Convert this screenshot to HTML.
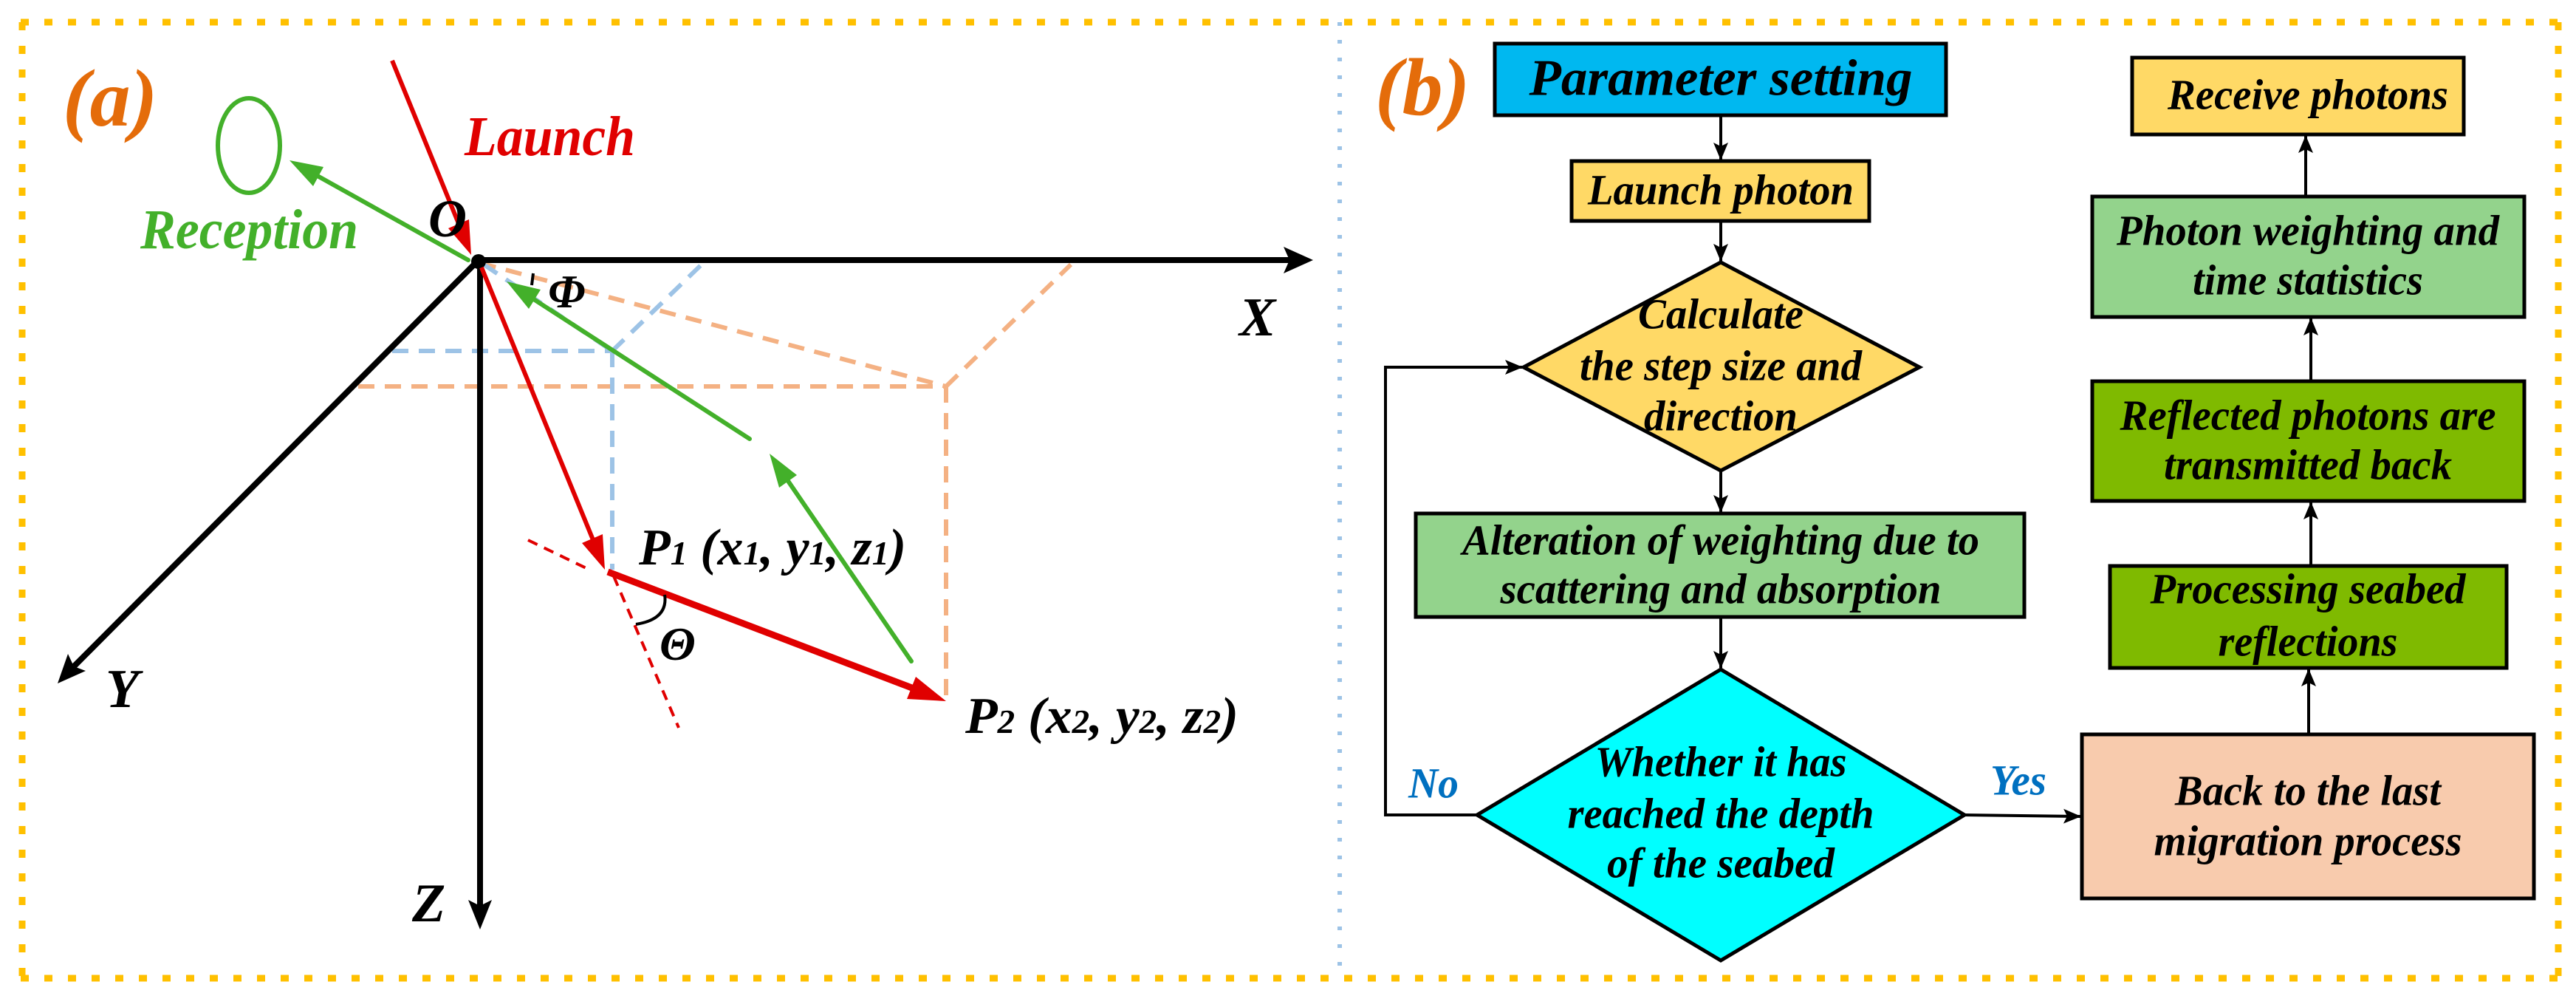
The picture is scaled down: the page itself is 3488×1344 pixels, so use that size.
<!DOCTYPE html>
<html><head><meta charset="utf-8"><style>
html,body{margin:0;padding:0;background:#fff;}
svg{display:block;}
text{font-family:"Liberation Serif",serif;font-weight:bold;font-style:italic;}
</style></head><body>
<svg width="3488" height="1344" viewBox="0 0 3488 1344" xmlns="http://www.w3.org/2000/svg">
<defs>
<marker id="ak" markerWidth="24" markerHeight="20" refX="23" refY="10" orient="auto" markerUnits="userSpaceOnUse" viewBox="0 0 24 20"><path d="M0,0 L24,10 L0,20 L5,10 Z" fill="#000"/></marker>
</defs>
<!-- border -->
<g stroke="#ffc000" stroke-width="9" fill="none" stroke-dasharray="11 21">
<line x1="28" y1="30" x2="3466" y2="30"/>
<line x1="28" y1="1324" x2="3466" y2="1324"/>
<line x1="30" y1="30" x2="30" y2="1324"/>
<line x1="3464" y1="30" x2="3464" y2="1324"/>
</g>
<line x1="1814" y1="30" x2="1814" y2="1320" stroke="#9dc3e6" stroke-width="6" stroke-dasharray="5 19"/>

<!-- panel a -->
<text x="85" y="170" font-size="110" fill="#e46c0a">(a)</text>
<g stroke="#f4b183" stroke-width="6" fill="none" stroke-dasharray="22 14">
<line x1="650" y1="356" x2="1281" y2="523"/>
<line x1="1281" y1="523" x2="1450" y2="358"/>
<line x1="1281" y1="523" x2="1281" y2="949"/>
<line x1="485" y1="523" x2="1281" y2="523"/>
</g>
<g stroke="#9dc3e6" stroke-width="6" fill="none" stroke-dasharray="22 14">
<line x1="655" y1="358" x2="829" y2="475"/>
<line x1="829" y1="475" x2="950" y2="358"/>
<line x1="531" y1="475" x2="829" y2="475"/>
<line x1="829" y1="475" x2="829" y2="771"/>
</g>
<!-- axes -->
<g stroke="#000" stroke-width="8" fill="none">
<line x1="648" y1="352" x2="1750" y2="352"/>
<line x1="650" y1="352" x2="650" y2="1230"/>
<line x1="648" y1="352" x2="100" y2="902"/>
</g>
<polygon points="1778,352 1738,334 1746,352 1738,370" fill="#000"/>
<polygon points="650,1258 634,1218 650,1226 666,1218" fill="#000"/>
<polygon points="78,925 92,885 100,902 116,908" fill="#000"/>
<circle cx="648" cy="354" r="10" fill="#000"/>
<!-- red -->
<g stroke="#e00000" stroke-width="6" fill="none">
<line x1="531" y1="82" x2="624" y2="310"/>
<line x1="652" y1="362" x2="806" y2="738"/>
<line x1="823" y1="774" x2="1240" y2="933" stroke-width="9"/>
<line x1="715" y1="731" x2="800" y2="772" stroke-dasharray="14 10" stroke-width="4"/>
<line x1="831" y1="780" x2="919" y2="985" stroke-dasharray="14 10" stroke-width="4"/>
</g>
<polygon points="638,345 635,297 607,309" fill="#e00000"/>
<polygon points="819,771 816,723 788,735" fill="#e00000"/>
<polygon points="1281,949 1228,946 1240,916" fill="#e00000"/>
<path d="M 900,805 Q 905,838 861,845" stroke="#000" stroke-width="4" fill="none"/>
<!-- green -->
<g stroke="#43b02a" stroke-width="6" fill="none" stroke-linecap="round">
<line x1="634" y1="352" x2="428" y2="237"/>
<line x1="1234" y1="895" x2="1065" y2="648"/>
<line x1="1015" y1="594" x2="718" y2="402"/>
<ellipse cx="337" cy="197" rx="42" ry="64"/>
</g>
<polygon points="392,217 438,226 424,252" fill="#43b02a"/>
<polygon points="1042,614 1079,643 1055,660" fill="#43b02a"/>
<polygon points="686,381 732,392 716,418" fill="#43b02a"/>
<line x1="722" y1="370" x2="720" y2="386" stroke="#000" stroke-width="4"/>
<text x="629" y="210" font-size="76" fill="#e00000" textLength="231" lengthAdjust="spacingAndGlyphs">Launch</text>
<text x="190" y="336" font-size="76" fill="#43b02a" textLength="295" lengthAdjust="spacingAndGlyphs">Reception</text>
<text x="580" y="320" font-size="72" fill="#000">O</text>
<text x="742" y="416" font-size="64" fill="#000">Φ</text>
<text x="1678" y="454" font-size="74" fill="#000">X</text>
<text x="143" y="957" font-size="74" fill="#000">Y</text>
<text x="558" y="1247" font-size="74" fill="#000">Z</text>
<text x="893" y="893" font-size="64" fill="#000">Θ</text>
<text x="865" y="764" font-size="70" fill="#000" textLength="362" lengthAdjust="spacingAndGlyphs">P<tspan font-size="46">1</tspan> (x<tspan font-size="46">1</tspan>, y<tspan font-size="46">1</tspan>, z<tspan font-size="46">1</tspan>)</text>
<text x="1307" y="992" font-size="70" fill="#000" textLength="370" lengthAdjust="spacingAndGlyphs">P<tspan font-size="46">2</tspan> (x<tspan font-size="46">2</tspan>, y<tspan font-size="46">2</tspan>, z<tspan font-size="46">2</tspan>)</text>

<!-- panel b -->
<text x="1862" y="155" font-size="110" fill="#e46c0a">(b)</text>
<g stroke="#000" stroke-width="5">
<rect x="2024" y="59" width="611" height="97" fill="#00b8f0"/>
<rect x="2128" y="218" width="403" height="81" fill="#ffd966"/>
<polygon points="2330,355 2599,497 2330,637 2063,497" fill="#ffd966"/>
<rect x="1917" y="695" width="824" height="140" fill="#93d38c"/>
<polygon points="2330,906 2660,1103 2330,1300 2000,1103" fill="#00ffff"/>
<rect x="2819" y="994" width="612" height="222" fill="#f8cbad"/>
<rect x="2857" y="766" width="537" height="138" fill="#7fba00"/>
<rect x="2833" y="516" width="585" height="162" fill="#7fba00"/>
<rect x="2833" y="266" width="585" height="163" fill="#93d38c"/>
<rect x="2887" y="78" width="449" height="104" fill="#ffd966"/>
</g>
<g stroke="#000" stroke-width="4" fill="none" marker-end="url(#ak)">
<line x1="2330" y1="156" x2="2330" y2="216"/>
<line x1="2330" y1="299" x2="2330" y2="353"/>
<line x1="2330" y1="637" x2="2330" y2="693"/>
<line x1="2330" y1="835" x2="2330" y2="904"/>
<polyline points="2000,1103 1876,1103 1876,497 2061,497"/>
<line x1="2660" y1="1103" x2="2817" y2="1105"/>
<line x1="3126" y1="994" x2="3126" y2="906"/>
<line x1="3129" y1="766" x2="3129" y2="680"/>
<line x1="3129" y1="516" x2="3129" y2="431"/>
<line x1="3122" y1="266" x2="3122" y2="184"/>
</g>
<g font-size="58" fill="#000" dominant-baseline="central" text-anchor="middle">
<text x="2330" y="106" font-size="70" textLength="519" lengthAdjust="spacingAndGlyphs">Parameter setting</text>
<text x="2330" y="257" textLength="360" lengthAdjust="spacingAndGlyphs">Launch photon</text>
<text x="2330" y="425" textLength="224" lengthAdjust="spacingAndGlyphs">Calculate</text>
<text x="2330" y="495" textLength="382" lengthAdjust="spacingAndGlyphs">the step size and</text>
<text x="2330" y="563" textLength="208" lengthAdjust="spacingAndGlyphs">direction</text>
<text x="2330" y="731" textLength="700" lengthAdjust="spacingAndGlyphs">Alteration of weighting due to</text>
<text x="2330" y="797" textLength="597" lengthAdjust="spacingAndGlyphs">scattering and absorption</text>
<text x="2330" y="1031" textLength="341" lengthAdjust="spacingAndGlyphs">Whether it has</text>
<text x="2330" y="1101" textLength="415" lengthAdjust="spacingAndGlyphs">reached the depth</text>
<text x="2330" y="1168" textLength="308" lengthAdjust="spacingAndGlyphs">of the seabed</text>
<text x="3125" y="1070" textLength="360" lengthAdjust="spacingAndGlyphs">Back to the last</text>
<text x="3125" y="1138" textLength="417" lengthAdjust="spacingAndGlyphs">migration process</text>
<text x="3125" y="797" textLength="427" lengthAdjust="spacingAndGlyphs">Processing seabed</text>
<text x="3125" y="868" textLength="243" lengthAdjust="spacingAndGlyphs">reflections</text>
<text x="3125" y="562" textLength="509" lengthAdjust="spacingAndGlyphs">Reflected photons are</text>
<text x="3125" y="629" textLength="390" lengthAdjust="spacingAndGlyphs">transmitted back</text>
<text x="3125" y="312" textLength="518" lengthAdjust="spacingAndGlyphs">Photon weighting and</text>
<text x="3125" y="379" textLength="312" lengthAdjust="spacingAndGlyphs">time statistics</text>
<text x="3125" y="128" textLength="380" lengthAdjust="spacingAndGlyphs">Receive photons</text>
<text x="1941" y="1060" fill="#0070c0" textLength="68" lengthAdjust="spacingAndGlyphs">No</text>
<text x="2733" y="1056" fill="#0070c0" textLength="76" lengthAdjust="spacingAndGlyphs">Yes</text>
</g>
</svg>
</body></html>
